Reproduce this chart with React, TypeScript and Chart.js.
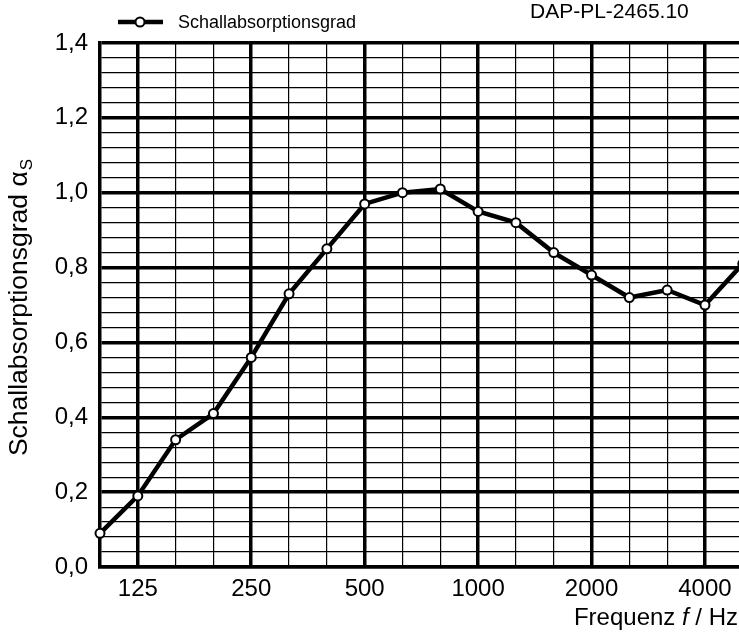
import { useEffect, useRef } from 'react';
import { Chart, registerables } from 'chart.js';

Chart.register(...registerables);

// third-octave band centre frequencies (Hz)
const FREQUENCIES = [100, 125, 160, 200, 250, 315, 400, 500, 630, 800, 1000, 1250, 1600, 2000, 2500, 3150, 4000, 5000];
// sound absorption coefficient per band
const ABSORPTION = [0.09, 0.19, 0.34, 0.41, 0.56, 0.73, 0.85, 0.97, 1.0, 1.01, 0.95, 0.92, 0.84, 0.78, 0.72, 0.74, 0.7, 0.81];
// octave bands that get a label and a heavy grid line
const LABELLED_FREQUENCIES = [125, 250, 500, 1000, 2000, 4000];
const Y_MIN = 0;
const Y_MAX = 1.4;
const Y_LABEL_STEP = 0.2;
const Y_GRID_STEP = 0.04;

const LEGEND_LABEL = 'Schallabsorptionsgrad';
const REPORT_ID = 'DAP-PL-2465.10';

const FONT = '"Liberation Sans", Arial, Helvetica, sans-serif';

const isLabelledBand = (i: number) => LABELLED_FREQUENCIES.includes(FREQUENCIES[i]);
const isMajorY = (v: number) => {
  const r = v / Y_LABEL_STEP;
  return Math.abs(r - Math.round(r)) < 1e-6;
};

const THIN = 1.2;
const THICK = 3.5;

// legend, report id and axis titles (subscript / italic parts need manual text)
const annotations = {
  id: 'annotations',
  afterDraw(chart: Chart) {
    const { ctx, chartArea } = chart;
    ctx.save();

    // legend
    ctx.strokeStyle = '#000';
    ctx.lineWidth = 4.5;
    ctx.beginPath();
    ctx.moveTo(118, 22);
    ctx.lineTo(163, 22);
    ctx.stroke();
    ctx.beginPath();
    ctx.arc(140, 22, 4.5, 0, Math.PI * 2);
    ctx.fillStyle = '#fff';
    ctx.fill();
    ctx.lineWidth = 2;
    ctx.stroke();

    ctx.fillStyle = '#000';
    ctx.textBaseline = 'alphabetic';
    ctx.textAlign = 'left';
    ctx.font = `18px ${FONT}`;
    ctx.fillText(LEGEND_LABEL, 178, 28);

    ctx.font = `21px ${FONT}`;
    ctx.fillText(REPORT_ID, 530, 18);

    // x title: Frequenz f / Hz
    const parts: [string, string][] = [
      ['Frequenz ', `24px ${FONT}`],
      ['f', `italic 24px ${FONT}`],
      [' / Hz', `24px ${FONT}`],
    ];
    let total = 0;
    for (const [t, f] of parts) {
      ctx.font = f;
      total += ctx.measureText(t).width;
    }
    let x = 738 - total;
    for (const [t, f] of parts) {
      ctx.font = f;
      ctx.fillText(t, x, 625);
      x += ctx.measureText(t).width;
    }

    // y title: Schallabsorptionsgrad αS
    const cy = (chartArea.top + chartArea.bottom) / 2 + 3;
    ctx.translate(27, cy);
    ctx.rotate(-Math.PI / 2);
    ctx.font = `26.5px ${FONT}`;
    const main = 'Schallabsorptionsgrad α';
    const wMain = ctx.measureText(main).width;
    ctx.font = `17px ${FONT}`;
    const wSub = ctx.measureText('S').width;
    const start = -(wMain + wSub) / 2;
    ctx.font = `26.5px ${FONT}`;
    ctx.fillText(main, start, 0);
    ctx.font = `17px ${FONT}`;
    ctx.fillText('S', start + wMain + 1, 5);

    ctx.restore();
  },
};

export default function App() {
  const canvasRef = useRef<HTMLCanvasElement>(null);
  const chartRef = useRef<Chart | null>(null);

  useEffect(() => {
    if (!canvasRef.current) return;
    if (chartRef.current) chartRef.current.destroy();

    chartRef.current = new Chart(canvasRef.current, {
      type: 'line',
      data: {
        datasets: [
          {
            label: LEGEND_LABEL,
            data: ABSORPTION.map((y, i) => ({ x: i, y })),
            borderColor: '#000',
            borderWidth: 4.5,
            pointRadius: 4.5,
            pointBorderWidth: 2,
            pointBackgroundColor: '#fff',
            pointBorderColor: '#000',
            tension: 0,
            clip: 10,
          },
        ],
      },
      options: {
        animation: false,
        responsive: true,
        maintainAspectRatio: false,
        layout: { autoPadding: false, padding: { top: 43, right: 0, bottom: 0, left: 0 } },
        plugins: {
          legend: { display: false },
          tooltip: { enabled: false },
        },
        scales: {
          x: {
            type: 'linear',
            min: 0,
            max: 16.9,
            afterFit: (scale: any) => {
              scale.height = 66;
              scale.paddingLeft = 0;
              scale.paddingRight = 0;
            },
            ticks: {
              stepSize: 1,
              includeBounds: false,
              autoSkip: false,
              maxRotation: 0,
              padding: 8,
              color: '#000',
              font: { family: FONT, size: 24 },
              callback: (v: any) => (isLabelledBand(Number(v)) ? String(FREQUENCIES[Number(v)]) : ''),
            },
            grid: {
              color: '#000',
              drawTicks: false,
              lineWidth: (c: any) => (c.tick && isLabelledBand(c.tick.value) ? THICK : THIN),
            },
            border: { color: '#000', width: THICK },
          },
          y: {
            min: Y_MIN,
            max: Y_MAX,
            afterFit: (scale: any) => {
              scale.width = 100;
            },
            ticks: {
              stepSize: Y_GRID_STEP,
              autoSkip: false,
              padding: 12,
              color: '#000',
              font: { family: FONT, size: 24 },
              callback: (v: any) => (isMajorY(Number(v)) ? Number(v).toFixed(1).replace('.', ',') : ''),
            },
            grid: {
              color: '#000',
              drawTicks: false,
              lineWidth: (c: any) => (c.tick && isMajorY(c.tick.value) ? THICK : THIN),
            },
            border: { color: '#000', width: THICK },
          },
        },
      },
      plugins: [annotations],
    });

    return () => {
      if (chartRef.current) {
        chartRef.current.destroy();
        chartRef.current = null;
      }
    };
  }, []);

  return (
    <div style={{ position: 'absolute', left: 0, top: 0, width: 739, height: 633, background: '#fff' }}>
      <canvas ref={canvasRef} />
    </div>
  );
}
